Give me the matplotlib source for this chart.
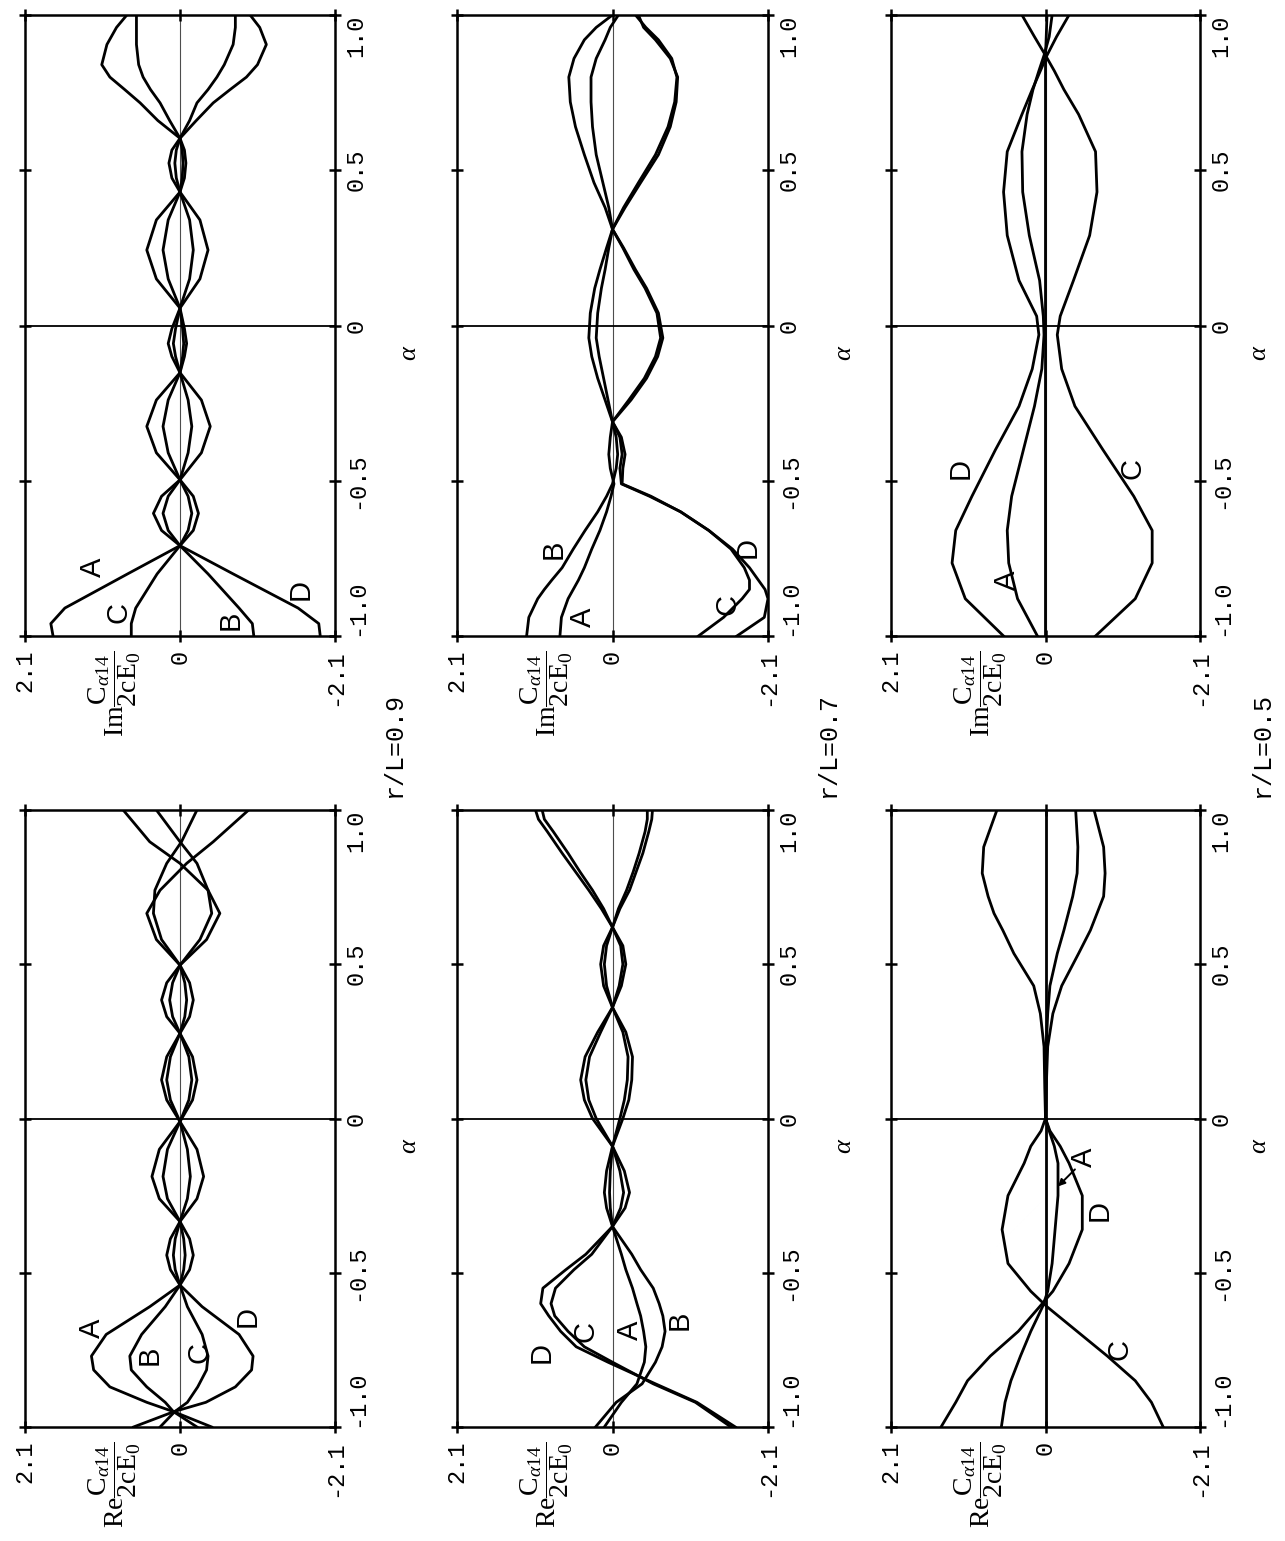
import numpy as np
import matplotlib
matplotlib.use('Agg')
import matplotlib.pyplot as plt

plt.rcParams['font.family'] = 'Liberation Mono'
plt.rcParams['mathtext.fontset'] = 'custom'
plt.rcParams['mathtext.rm'] = 'Liberation Serif'
plt.rcParams['mathtext.it'] = 'Liberation Serif:italic'

###############################################################################
# Coefficient curves C_a14 / 2cE0 versus alpha
# --------------------------------------------
# r/L = 0.9, imaginary part
alpha_im09 = [-1.0, -0.96, -0.91, -0.80, -0.709, -0.66, -0.605, -0.55, -0.497, -0.41, -0.325,
              -0.24, -0.152, -0.10, -0.058, -0.01, 0.056, 0.15, 0.243, 0.34, 0.43, 0.475,
              0.523, 0.565, 0.603, 0.66, 0.717, 0.76, 0.80, 0.84, 0.905, 0.96, 1.0]
im09_A = [1.72, 1.75, 1.56, 0.71, 0.0, -0.18, -0.25, -0.18, 0.0, 0.32, 0.45, 0.32, 0.0, -0.06, -0.09,
          -0.06, 0.0, 0.32, 0.45, 0.32, 0.0, -0.06, -0.08, -0.06, 0.0, 0.30, 0.54, 0.75, 0.95, 1.06,
          0.99, 0.86, 0.72]
im09_B = [-1.0, -0.98, -0.80, -0.38, 0.0, 0.16, 0.23, 0.16, 0.0, -0.11, -0.16, -0.11, 0.0, 0.06, 0.09,
          0.06, 0.0, -0.13, -0.18, -0.13, 0.0, 0.05, 0.07, 0.05, 0.0, -0.13, -0.23, -0.38, -0.50, -0.60,
          -0.72, -0.75, -0.75]
im09_C = [0.66, 0.66, 0.60, 0.31, 0.0, -0.11, -0.16, -0.11, 0.0, 0.16, 0.23, 0.16, 0.0, -0.035, -0.05,
          -0.035, 0.0, 0.16, 0.23, 0.16, 0.0, -0.03, -0.04, -0.03, 0.0, 0.14, 0.27, 0.40, 0.50, 0.56,
          0.59, 0.59, 0.59]
im09_D = [-1.90, -1.88, -1.60, -0.72, 0.0, 0.25, 0.36, 0.25, 0.0, -0.29, -0.41, -0.29, 0.0, 0.11, 0.16,
          0.11, 0.0, -0.27, -0.38, -0.27, 0.0, 0.11, 0.15, 0.11, 0.0, -0.22, -0.45, -0.68, -0.90, -1.05,
          -1.17, -1.08, -0.95]

# r/L = 0.9, real part
alpha_re09 = [-1.0, -0.95, -0.92, -0.87, -0.815, -0.77, -0.70, -0.61, -0.54, -0.49, -0.443, -0.39,
              -0.334, -0.26, -0.188, -0.10, -0.01, 0.06, 0.125, 0.20, 0.276, 0.33, 0.384, 0.44,
              0.497, 0.58, 0.665, 0.74, 0.827, 0.897, 1.0]
re09_A = [-0.43, 0.09, 0.45, 0.95, 1.17, 1.20, 1.00, 0.41, 0.0, -0.13, -0.18, -0.13, 0.0, 0.28, 0.38,
          0.28, 0.0, -0.17, -0.23, -0.17, 0.0, 0.18, 0.25, 0.18, 0.0, 0.32, 0.45, 0.27, -0.09, -0.45,
          -0.93]
re09_B = [-0.23, 0.09, 0.20, 0.45, 0.66, 0.68, 0.52, 0.20, 0.0, -0.05, -0.07, -0.05, 0.0, 0.17, 0.23,
          0.17, 0.0, -0.12, -0.16, -0.12, 0.0, 0.10, 0.14, 0.10, 0.0, 0.25, 0.36, 0.34, 0.18, -0.02,
          -0.23]
re09_C = [0.27, 0.07, -0.10, -0.24, -0.36, -0.38, -0.30, -0.10, 0.0, 0.065, 0.09, 0.065, 0.0, -0.10,
          -0.14, -0.10, 0.0, 0.13, 0.18, 0.13, 0.0, -0.065, -0.09, -0.065, 0.0, -0.27, -0.43, -0.38,
          -0.23, 0.0, 0.32]
re09_D = [0.63, 0.08, -0.35, -0.75, -0.97, -0.99, -0.80, -0.30, 0.0, 0.13, 0.18, 0.13, 0.0, -0.23,
          -0.32, -0.23, 0.0, 0.18, 0.25, 0.18, 0.0, -0.13, -0.18, -0.13, 0.0, -0.36, -0.54, -0.38, 0.0,
          0.41, 0.77]

# r/L = 0.7, imaginary part
alpha_im07 = [-1.0, -0.94, -0.88, -0.85, -0.82, -0.78, -0.72, -0.66, -0.60, -0.55, -0.51, -0.46,
              -0.415, -0.36, -0.31, -0.24, -0.17, -0.10, -0.04, 0.04, 0.12, 0.18, 0.25, 0.31, 0.38,
              0.46, 0.55, 0.64, 0.72, 0.80, 0.86, 0.92, 0.96, 1.0]
im07_A = [0.71, 0.69, 0.60, 0.53, 0.46, 0.38, 0.28, 0.17, 0.08, 0.02, -0.02, 0.03, 0.05, 0.03, 0.0,
          0.10, 0.20, 0.28, 0.32, 0.30, 0.24, 0.17, 0.08, 0.0, 0.10, 0.25, 0.38, 0.50, 0.57, 0.59,
          0.52, 0.38, 0.22, 0.0]
im07_B = [1.16, 1.13, 1.01, 0.92, 0.82, 0.68, 0.53, 0.37, 0.20, 0.08, 0.0, -0.05, -0.07, -0.05, 0.0,
          0.06, 0.12, 0.18, 0.22, 0.20, 0.15, 0.10, 0.05, 0.0, 0.05, 0.13, 0.22, 0.27, 0.29, 0.29,
          0.22, 0.10, 0.03, -0.08]
im07_C = [-1.16, -1.50, -1.75, -1.85, -1.85, -1.78, -1.60, -1.30, -0.92, -0.50, -0.12, -0.10, -0.13,
          -0.10, 0.0, -0.22, -0.43, -0.58, -0.65, -0.60, -0.44, -0.29, -0.14, 0.0, -0.15, -0.35,
          -0.58, -0.75, -0.84, -0.87, -0.80, -0.62, -0.45, -0.31]
im07_D = [-1.68, -2.05, -2.10, -2.06, -1.97, -1.85, -1.62, -1.30, -0.92, -0.52, -0.13, -0.14, -0.17,
          -0.12, 0.0, -0.25, -0.46, -0.61, -0.68, -0.62, -0.46, -0.31, -0.15, 0.0, -0.17, -0.38,
          -0.62, -0.78, -0.86, -0.88, -0.78, -0.58, -0.42, -0.35]

# r/L = 0.7, real part
alpha_re07 = [-1.0, -0.92, -0.86, -0.79, -0.74, -0.69, -0.64, -0.60, -0.55, -0.49, -0.44, -0.35,
              -0.29, -0.24, -0.17, -0.09, 0.0, 0.06, 0.125, 0.20, 0.28, 0.36, 0.43, 0.50, 0.56,
              0.62, 0.68, 0.74, 0.80, 0.86, 0.93, 0.97, 1.0]
re07_A = [0.11, -0.12, -0.33, -0.43, -0.45, -0.42, -0.38, -0.33, -0.27, -0.18, -0.12, 0.0, 0.03, 0.04,
          0.03, 0.0, -0.10, -0.16, -0.20, -0.21, -0.14, 0.0, 0.08, 0.11, 0.08, 0.0, -0.08, -0.19,
          -0.28, -0.36, -0.44, -0.47, -0.47]
re07_B = [0.23, -0.05, -0.40, -0.58, -0.67, -0.71, -0.68, -0.63, -0.55, -0.38, -0.26, 0.0, 0.08, 0.11,
          0.08, 0.0, -0.14, -0.22, -0.26, -0.27, -0.18, 0.0, 0.12, 0.16, 0.12, 0.0, -0.10, -0.23,
          -0.32, -0.41, -0.49, -0.53, -0.54]
re07_C = [-1.60, -1.12, -0.55, 0.0, 0.38, 0.60, 0.78, 0.83, 0.77, 0.52, 0.28, 0.0, -0.11, -0.15, -0.10,
          0.0, 0.22, 0.32, 0.36, 0.31, 0.16, 0.0, -0.09, -0.14, -0.11, 0.0, 0.12, 0.27, 0.44, 0.60,
          0.80, 0.92, 0.95]
re07_D = [-1.66, -1.14, -0.58, 0.06, 0.49, 0.70, 0.86, 0.97, 0.94, 0.63, 0.36, 0.0, -0.17, -0.23,
          -0.16, 0.0, 0.27, 0.38, 0.43, 0.37, 0.20, 0.0, -0.12, -0.18, -0.14, 0.0, 0.15, 0.32, 0.50,
          0.68, 0.88, 1.00, 1.04]

# r/L = 0.5, imaginary part
alpha_im05 = [-1.0, -0.88, -0.765, -0.66, -0.55, -0.40, -0.26, -0.14, -0.03, 0.03, 0.145, 0.29,
              0.43, 0.56, 0.68, 0.76, 0.82, 0.87, 0.93, 1.0]
im05_A = [0.11, 0.38, 0.50, 0.52, 0.46, 0.30, 0.15, 0.05, 0.02, 0.03, 0.08, 0.22, 0.31, 0.32, 0.25,
          0.17, 0.09, 0.02, -0.05, -0.09]
im05_B = [0.0, 0.0, 0.0, 0.0, 0.0, 0.0, 0.0, 0.0, 0.0, 0.0, 0.0, 0.0, 0.0, 0.0, 0.0, 0.0, 0.0, 0.0,
          -0.01, -0.02]
im05_C = [-0.68, -1.22, -1.45, -1.45, -1.20, -0.78, -0.40, -0.22, -0.16, -0.20, -0.38, -0.60, -0.70,
          -0.68, -0.45, -0.25, -0.12, 0.0, 0.15, 0.32]
im05_D = [0.57, 1.09, 1.27, 1.22, 1.00, 0.68, 0.36, 0.18, 0.09, 0.12, 0.36, 0.52, 0.57, 0.52, 0.32,
          0.18, 0.07, -0.02, -0.15, -0.32]

# r/L = 0.5, real part
alpha_re05 = [-1.0, -0.92, -0.85, -0.77, -0.69, -0.61, -0.56, -0.47, -0.36, -0.25, -0.145, -0.09,
              -0.04, 0.0, 0.10, 0.233, 0.34, 0.43, 0.535, 0.61, 0.665, 0.72, 0.795, 0.88, 1.0]
re05_A = [0.60, 0.55, 0.47, 0.34, 0.20, 0.04, -0.03, -0.09, -0.13, -0.17, -0.17, -0.12, -0.05, 0.0,
          0.0, -0.01, -0.03, -0.06, -0.16, -0.25, -0.31, -0.37, -0.43, -0.44, -0.41]
re05_B = [0.0, 0.0, 0.0, 0.0, 0.0, 0.0, 0.0, 0.0, 0.0, 0.0, 0.0, 0.0, 0.0, 0.0, 0.0, 0.0, 0.0, 0.0,
          0.0, 0.0, 0.0, 0.0, 0.0, 0.0, 0.0]
re05_C = [-1.60, -1.44, -1.22, -0.84, -0.43, -0.02, 0.20, 0.51, 0.59, 0.51, 0.29, 0.20, 0.06, 0.0,
          0.01, 0.02, 0.07, 0.16, 0.43, 0.58, 0.70, 0.78, 0.86, 0.84, 0.66]
re05_D = [1.42, 1.22, 1.06, 0.75, 0.37, 0.08, -0.10, -0.32, -0.50, -0.50, -0.32, -0.20, -0.06, 0.0,
          -0.01, -0.03, -0.10, -0.22, -0.45, -0.61, -0.70, -0.79, -0.81, -0.79, -0.66]

ratio_labels = ['r/L=0.9', 'r/L=0.7', 'r/L=0.5']
alpha_ticks = [-1.0, -0.5, 0.0, 0.5, 1.0]
alpha_ticklabels = ['-1.0', '-0.5', '0', '0.5', '1.0']
coef_ticks = [2.1, 0.0, -2.1]
coef_ticklabels = ['2.1', '0', '-2.1']

###############################################################################
# Page layout (the sheet is printed turned by a quarter turn)
# -----------------------------------------------------------
W, H = 1285, 1541
col_px = [(25, 335), (457, 768), (891, 1200)]
row_px = {'Im': (15, 636), 'Re': (810, 1427)}
alpha_label_x = [1.24, 1.245, 1.19]
ratio_label_px = [(394, 745), (828, 745), (1262, 745)]

fig = plt.figure(figsize=(W / 100, H / 100), dpi=100)
fig.patch.set_facecolor('white')


def add_panel(col, part):
    x0, x1 = col_px[col]
    y0, y1 = row_px[part]
    return fig.add_axes([x0 / W, 1 - y1 / H, (x1 - x0) / W, (y1 - y0) / H])


def draw_panel(ax, col, part, alpha, curves, letters):
    ax.axvline(0.0, color='0.3', lw=0.8, zorder=1)
    ax.axhline(0.0, color='k', lw=1.3, zorder=1)
    for vals in curves:
        ax.plot(vals, alpha, color='k', lw=2.0, solid_joinstyle='round', zorder=2)
    for name, (v, a) in letters.items():
        ax.text(v, a, name, rotation=90, ha='center', va='center', fontsize=21,
                family='Liberation Sans', zorder=3)

    ax.set_xlim(2.1, -2.1)
    ax.set_ylim(-1.0, 1.0)
    ax.set_xticks(coef_ticks)
    ax.set_xticklabels(coef_ticklabels, rotation=90, ha='center', va='top', fontsize=17)
    ax.set_yticks(alpha_ticks)
    ax.set_yticklabels(alpha_ticklabels, rotation=90, ha='left', va='center', fontsize=17)
    ax.yaxis.tick_right()
    ax.tick_params(axis='both', direction='inout', length=8, width=1.8,
                   top=True, bottom=True, left=True, right=True,
                   labelleft=False, labelright=True, labeltop=False, labelbottom=True)
    ax.tick_params(axis='x', pad=6)
    ax.tick_params(axis='y', pad=3)
    # the end labels of the alpha axis are pulled inside the frame
    yticks = ax.yaxis.get_major_ticks()
    yticks[0].label2.set_va('bottom')
    yticks[-1].label2.set_va('top')
    for sp in ax.spines.values():
        sp.set_linewidth(1.8)

    # quantity label sits among the coefficient tick labels
    ylab = r'$\mathrm{%s}\dfrac{\mathrm{C}_{\alpha 14}}{\mathrm{2cE}_{0}}$' % part
    ax.text(0.29, -0.024, ylab, transform=ax.transAxes, rotation=90, ha='center', va='top',
            fontsize=20)
    ax.text(alpha_label_x[col], 0.456, r'$\alpha$', transform=ax.transAxes, rotation=90,
            ha='center', va='center', fontsize=19)


###############################################################################
# r/L = 0.9
# ---------
ax = add_panel(0, 'Im')
draw_panel(ax, 0, 'Im', alpha_im09, [im09_A, im09_B, im09_C, im09_D],
           {'A': (1.18, -0.778), 'C': (0.84, -0.923), 'B': (-0.68, -0.948), 'D': (-1.63, -0.849)})
ax = add_panel(0, 'Re')
draw_panel(ax, 0, 'Re', alpha_re09, [re09_A, re09_B, re09_C, re09_D],
           {'A': (1.19, -0.679), 'B': (0.41, -0.767), 'C': (-0.27, -0.760), 'D': (-0.92, -0.643)})

###############################################################################
# r/L = 0.7
# ---------
ax = add_panel(1, 'Im')
draw_panel(ax, 1, 'Im', alpha_im07, [im07_A, im07_B, im07_C, im07_D],
           {'B': (0.80, -0.72), 'A': (0.40, -0.94), 'C': (-1.55, -0.90), 'D': (-1.82, -0.714)})
ax = add_panel(1, 'Re')
draw_panel(ax, 1, 'Re', alpha_re07, [re07_A, re07_B, re07_C, re07_D],
           {'D': (0.96, -0.757), 'C': (0.36, -0.692), 'A': (-0.24, -0.686), 'B': (-0.91, -0.653)})

###############################################################################
# r/L = 0.5
# ---------
ax = add_panel(2, 'Im')
draw_panel(ax, 2, 'Im', alpha_im05, [im05_A, im05_B, im05_C, im05_D],
           {'D': (1.16, -0.462), 'A': (0.52, -0.82), 'C': (-1.18, -0.462)})
ax = add_panel(2, 'Re')
draw_panel(ax, 2, 'Re', alpha_re05, [re05_A, re05_B, re05_C, re05_D],
           {'C': (-1.0, -0.75), 'D': (-0.74, -0.297)})
ax.text(-0.52, -0.125, 'A', rotation=90, ha='center', va='center', fontsize=21,
        family='Liberation Sans')
ax.annotate('', xy=(-0.17, -0.22), xytext=(-0.40, -0.165),
            arrowprops=dict(arrowstyle='-|>', lw=1.4, color='k', shrinkA=0, shrinkB=0,
                            mutation_scale=10))

for (px, py), txt in zip(ratio_label_px, ratio_labels):
    fig.text(px / W, 1 - py / H, txt, rotation=90, ha='center', va='center', fontsize=18)

fig.savefig('out.png', dpi=100, facecolor='white')
